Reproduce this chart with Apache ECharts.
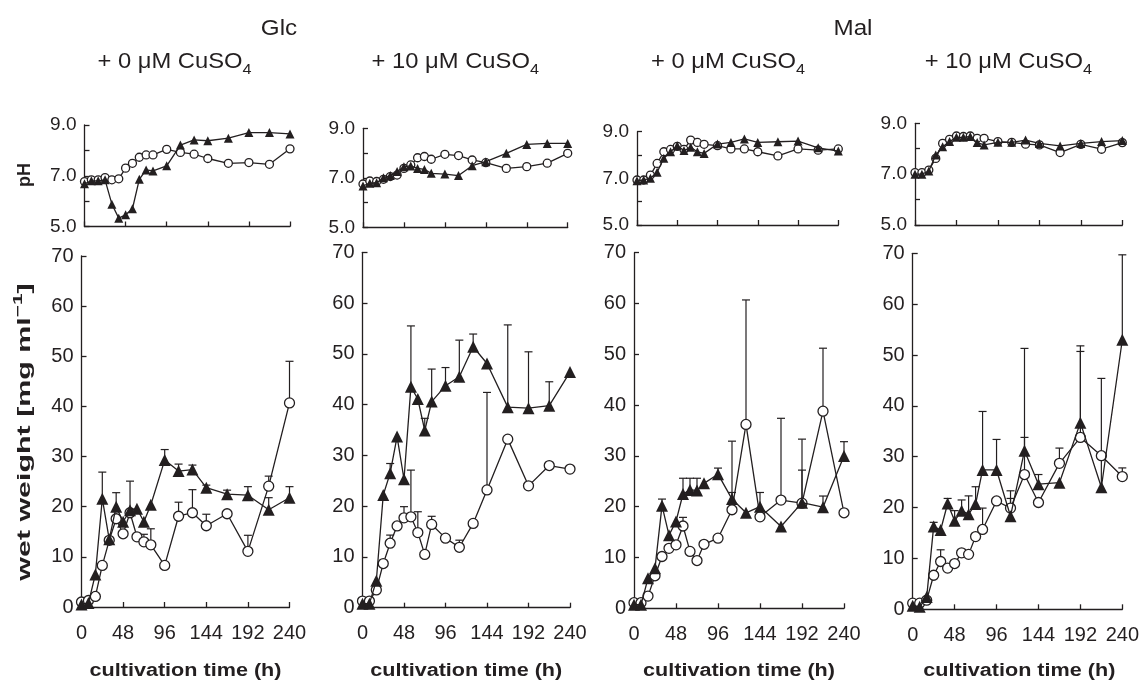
<!DOCTYPE html>
<html>
<head>
<meta charset="utf-8">
<script src="https://cdn.jsdelivr.net/npm/echarts@6/dist/echarts.min.js"></script>
<style>
  html, body { margin: 0; padding: 0; background: #fff; }
  #chart { width: 1142px; height: 683px; }
</style>
</head>
<body>
<div id="chart"></div>
<script>
// sampling times (h)
const hours = [0, 8, 16, 24, 32, 40, 48, 56, 64, 72, 80, 96, 112, 128, 144, 168, 192, 216, 240];

// pH, open circles / filled triangles
const phGlc0Cir = [6.77, 6.84, 6.84, 6.93, 6.84, 6.88, 7.30, 7.49, 7.73, 7.82, 7.82, 8.04, 7.92, 7.85, 7.68, 7.49, 7.52, 7.45, 8.06];
const phGlc0Tri = [6.68, 6.80, 6.80, 6.84, 5.88, 5.33, 5.46, 5.70, 6.86, 7.23, 7.19, 7.39, 8.21, 8.41, 8.38, 8.48, 8.70, 8.70, 8.65];
const phGlc10Cir = [6.75, 6.87, 6.85, 6.94, 7.05, 7.11, 7.38, 7.52, 7.81, 7.86, 7.75, 7.95, 7.90, 7.72, 7.61, 7.38, 7.45, 7.59, 7.99];
const phGlc10Tri = [6.67, 6.78, 6.80, 7.00, 7.09, 7.25, 7.45, 7.48, 7.38, 7.34, 7.18, 7.15, 7.09, 7.49, 7.65, 7.99, 8.35, 8.39, 8.39];
const phMal0Cir = [6.93, 6.93, 7.14, 7.64, 8.14, 8.24, 8.37, 8.24, 8.64, 8.54, 8.46, 8.40, 8.26, 8.26, 8.14, 7.96, 8.26, 8.21, 8.26];
const phMal0Tri = [6.90, 6.93, 7.00, 7.26, 7.86, 8.14, 8.40, 8.19, 8.33, 8.14, 8.07, 8.47, 8.54, 8.69, 8.54, 8.57, 8.60, 8.31, 8.17];
const phMal10Cir = [7.06, 7.06, 7.16, 7.62, 8.21, 8.37, 8.50, 8.48, 8.50, 8.41, 8.41, 8.28, 8.25, 8.18, 8.15, 7.85, 8.17, 7.98, 8.24];
const phMal10Tri = [7.00, 7.00, 7.12, 7.75, 8.08, 8.28, 8.45, 8.45, 8.48, 8.24, 8.15, 8.25, 8.25, 8.34, 8.21, 8.11, 8.21, 8.28, 8.32];

// wet weight (mg/ml)
const wwGlc0Cir = [1.0, 1.3, 2.1, 8.3, 13.3, 17.6, 14.6, 18.8, 14.0, 13.0, 12.4, 8.3, 18.1, 18.8, 16.2, 18.6, 11.1, 24.1, 40.7];
const wwGlc0Tri = [0.5, 0.8, 6.5, 21.6, 13.5, 20.0, 17.0, 19.3, 19.6, 17.0, 20.4, 29.3, 27.1, 27.4, 23.8, 22.5, 22.3, 19.4, 21.8];
const wwGlc10Cir = [1.3, 1.3, 3.5, 8.7, 12.7, 16.1, 17.7, 17.9, 14.8, 10.5, 16.4, 13.7, 11.9, 16.6, 23.2, 33.2, 24.0, 28.0, 27.3];
const wwGlc10Tri = [0.8, 0.8, 5.3, 22.2, 26.5, 33.7, 25.3, 43.5, 41.1, 34.9, 40.6, 43.7, 45.5, 51.4, 48.1, 39.5, 39.3, 39.8, 46.4];
const wwMal0Cir = [1.1, 1.1, 2.4, 6.4, 10.2, 11.8, 12.5, 16.2, 11.2, 9.4, 12.6, 13.8, 19.4, 36.2, 18.0, 21.3, 20.7, 38.8, 18.8];
const wwMal0Tri = [0.7, 0.7, 5.9, 7.9, 20.2, 14.4, 17.1, 22.5, 23.3, 23.2, 24.6, 26.4, 21.5, 18.8, 20.0, 16.1, 20.8, 19.9, 30.0];
const wwMal10Cir = [1.2, 1.2, 1.8, 6.7, 9.4, 8.1, 9.0, 11.1, 10.8, 14.3, 15.7, 21.3, 19.9, 26.5, 21.0, 28.7, 33.8, 30.2, 26.1];
const wwMal10Tri = [0.7, 0.5, 2.4, 16.3, 15.6, 20.8, 17.4, 19.4, 18.7, 20.7, 27.4, 27.4, 18.3, 31.2, 24.6, 24.9, 36.7, 24.0, 53.0];

// upper error bars of wet weight (null = not drawn)
const errGlc0Cir = [null, null, null, null, null, null, null, 6.3, null, 1.5, 3.2, null, 2.8, 4.6, 2.3, null, 3.2, 2.0, 8.3];
const errGlc0Tri = [null, null, null, 5.3, null, 2.8, null, null, null, null, null, 2.1, 1.4, 0.9, 0.5, 0.8, 1.7, 2.4, 2.2];
const errGlc10Cir = [null, null, null, null, 1.6, null, 2.2, 9.2, 4.1, null, 1.6, null, 1.4, null, 19.2, null, null, null, null];
const errGlc10Tri = [null, null, null, null, 1.9, null, null, 12.0, null, 2.4, 6.4, 3.6, 7.2, 2.5, null, 16.2, 11.1, 4.7, null];
const errMal0Cir = [null, null, null, null, null, null, null, 1.7, null, null, null, null, 13.5, 24.5, null, 16.1, 12.6, 12.4, null];
const errMal0Tri = [null, null, null, null, 1.3, null, null, 3.1, 2.3, 2.4, null, 1.2, 1.3, null, 2.8, null, 6.4, 2.2, 2.8];
const errMal10Cir = [null, null, null, null, 2.3, null, null, null, null, null, 4.2, null, 3.4, 24.8, null, 3.0, 16.9, null, 1.7];
const errMal10Tri = [null, null, null, 0.8, null, 1.0, 2.0, 2.1, 3.6, 3.4, 11.5, 6.0, 3.5, 2.6, 1.9, null, 15.1, 21.4, 16.7];

const sugars = ['Glc', 'Mal'];
const cuLabels = ['+ 0 μM CuSO', '+ 10 μM CuSO', '+ 0 μM CuSO', '+ 10 μM CuSO'];

const panelData = [
  { phC: phGlc0Cir, phT: phGlc0Tri, wwC: wwGlc0Cir, wwT: wwGlc0Tri, eC: errGlc0Cir, eT: errGlc0Tri },
  { phC: phGlc10Cir, phT: phGlc10Tri, wwC: wwGlc10Cir, wwT: wwGlc10Tri, eC: errGlc10Cir, eT: errGlc10Tri },
  { phC: phMal0Cir, phT: phMal0Tri, wwC: wwMal0Cir, wwT: wwMal0Tri, eC: errMal0Cir, eT: errMal0Tri },
  { phC: phMal10Cir, phT: phMal10Tri, wwC: wwMal10Cir, wwT: wwMal10Tri, eC: errMal10Cir, eT: errMal10Tri },
];

// pixel layout of the 4 columns (pH box on top, wet weight box below)
const layout = [
  { ph: [84.5, 125, 205.5, 101.5], ww: [81.5, 256, 208, 351] },
  { ph: [363, 128.3, 204.7, 99], ww: [362.5, 252.3, 207.5, 355.4] },
  { ph: [637, 131.7, 201.3, 93.3], ww: [634, 252.7, 210, 355.6] },
  { ph: [915, 123.3, 207.3, 101.7], ww: [912.7, 253.3, 213.3, 356] },
];

const INK = '#231f20';
const FONT = '"Liberation Sans", Arial, sans-serif';

const chart = echarts.init(document.getElementById('chart'));

const grids = [];
const xAxes = [];
const yAxes = [];
const series = [];

const axisLine = { lineStyle: { color: INK, width: 1.3 } };
const axisTick = { inside: true, length: 5, lineStyle: { color: INK, width: 1.3 } };

function pairs(vals) {
  return hours.map((h, i) => [h, vals[i]]);
}

function errPairs(vals, errs) {
  return hours.map((h, i) => (errs[i] == null ? null : [h, vals[i], errs[i]])).filter(Boolean);
}

function errorSeries(gi, vals, errs) {
  return {
    type: 'custom',
    xAxisIndex: gi, yAxisIndex: gi,
    z: 1,
    silent: true,
    encode: { x: 0, y: 1 },
    data: errPairs(vals, errs),
    renderItem: (params, api) => {
      const t = api.value(0), v = api.value(1), e = api.value(2);
      const p0 = api.coord([t, v]);
      const p1 = api.coord([t, v + e]);
      const st = { stroke: INK, lineWidth: 1.2 };
      return {
        type: 'group',
        children: [
          { type: 'line', shape: { x1: p0[0], y1: p0[1], x2: p1[0], y2: p1[1] }, style: st },
          { type: 'line', shape: { x1: p1[0] - 4, y1: p1[1], x2: p1[0] + 4, y2: p1[1] }, style: st },
        ],
      };
    },
  };
}

function lineSeries(gi, vals, open, size) {
  return {
    type: 'line',
    xAxisIndex: gi, yAxisIndex: gi,
    z: open ? 2 : 3,
    data: pairs(vals),
    symbol: open ? 'circle' : 'triangle',
    symbolSize: open ? size : size + 2,
    showAllSymbol: true,
    lineStyle: { color: INK, width: 1.3 },
    itemStyle: open
      ? { color: '#fff', borderColor: INK, borderWidth: 1.3 }
      : { color: INK, borderColor: INK, borderWidth: 0 },
  };
}

layout.forEach((lay, p) => {
  const d = panelData[p];
  const gPh = p * 2, gWw = p * 2 + 1;

  grids.push({ left: lay.ph[0], top: lay.ph[1], width: lay.ph[2], height: lay.ph[3] });
  grids.push({ left: lay.ww[0], top: lay.ww[1], width: lay.ww[2], height: lay.ww[3] });

  // pH axes
  xAxes.push({
    gridIndex: gPh, type: 'value', min: 0, max: 240, interval: 48,
    axisLine, axisTick, axisLabel: { show: false }, splitLine: { show: false },
  });
  yAxes.push({
    gridIndex: gPh, type: 'value', min: 5, max: 9, interval: 1,
    axisLine: { show: true, ...axisLine }, axisTick,
    axisLabel: {
      color: INK, fontFamily: FONT, fontSize: 19, margin: 8,
      formatter: (v) => (v % 2 === 1 ? v.toFixed(1) : ''),
    },
    splitLine: { show: false },
  });

  // wet weight axes
  xAxes.push({
    gridIndex: gWw, type: 'value', min: 0, max: 240, interval: 48,
    axisLine, axisTick,
    axisLabel: { color: INK, fontFamily: FONT, fontSize: 20, margin: 16 },
    splitLine: { show: false },
  });
  yAxes.push({
    gridIndex: gWw, type: 'value', min: 0, max: 70, interval: 10,
    axisLine: { show: true, ...axisLine }, axisTick,
    axisLabel: { color: INK, fontFamily: FONT, fontSize: 20, margin: 8 },
    splitLine: { show: false },
  });

  series.push(lineSeries(gPh, d.phC, true, 8));
  series.push(lineSeries(gPh, d.phT, false, 7));
  series.push(errorSeries(gWw, d.wwC, d.eC));
  series.push(errorSeries(gWw, d.wwT, d.eT));
  series.push(lineSeries(gWw, d.wwC, true, 10));
  series.push(lineSeries(gWw, d.wwT, false, 10));
});

// titles and axis names
const graphic = [];
[[279, sugars[0]], [853, sugars[1]]].forEach(([x, txt]) => {
  graphic.push({
    type: 'text', x, y: 29, scaleX: 1.1,
    style: { text: txt, fill: INK, font: '22px ' + FONT, align: 'center', verticalAlign: 'middle' },
  });
});
layout.forEach((lay, p) => {
  const cx = lay.ww[0] + lay.ww[2] / 2;
  graphic.push({
    type: 'text', x: cx - 11, y: 62, scaleX: 1.08,
    style: {
      text: '{m|' + cuLabels[p] + '}{s|4}',
      align: 'center', verticalAlign: 'middle',
      rich: {
        m: { fontSize: 22, fontFamily: FONT, fill: INK, lineHeight: 30, verticalAlign: 'middle' },
        s: { fontSize: 15, fontFamily: FONT, fill: INK, lineHeight: 12, verticalAlign: 'bottom' },
      },
    },
  });
  graphic.push({
    type: 'text', x: cx, y: 671, scaleX: 1.2,
    style: {
      text: 'cultivation time (h)', fill: INK, font: 'bold 18px ' + FONT,
      align: 'center', verticalAlign: 'middle',
    },
  });
});
graphic.push({
  type: 'text', x: 25, y: 175, rotation: Math.PI / 2,
  style: { text: 'pH', fill: INK, font: 'bold 18px ' + FONT, align: 'center', verticalAlign: 'middle' },
});
graphic.push({
  type: 'text', x: 25, y: 432, rotation: Math.PI / 2, scaleX: 1.6,
  style: {
    text: '{b|wet weight [mg ml}{u|−1}{b|]}',
    align: 'center', verticalAlign: 'middle',
    rich: {
      b: { fontSize: 19, fontWeight: 'bold', fontFamily: FONT, fill: INK, lineHeight: 26, verticalAlign: 'middle' },
      u: { fontSize: 13, fontWeight: 'bold', fontFamily: FONT, fill: INK, lineHeight: 12, verticalAlign: 'top' },
    },
  },
});

chart.setOption({
  animation: false,
  backgroundColor: '#fff',
  grid: grids,
  xAxis: xAxes,
  yAxis: yAxes,
  series,
  graphic,
});
</script>
</body>
</html>
